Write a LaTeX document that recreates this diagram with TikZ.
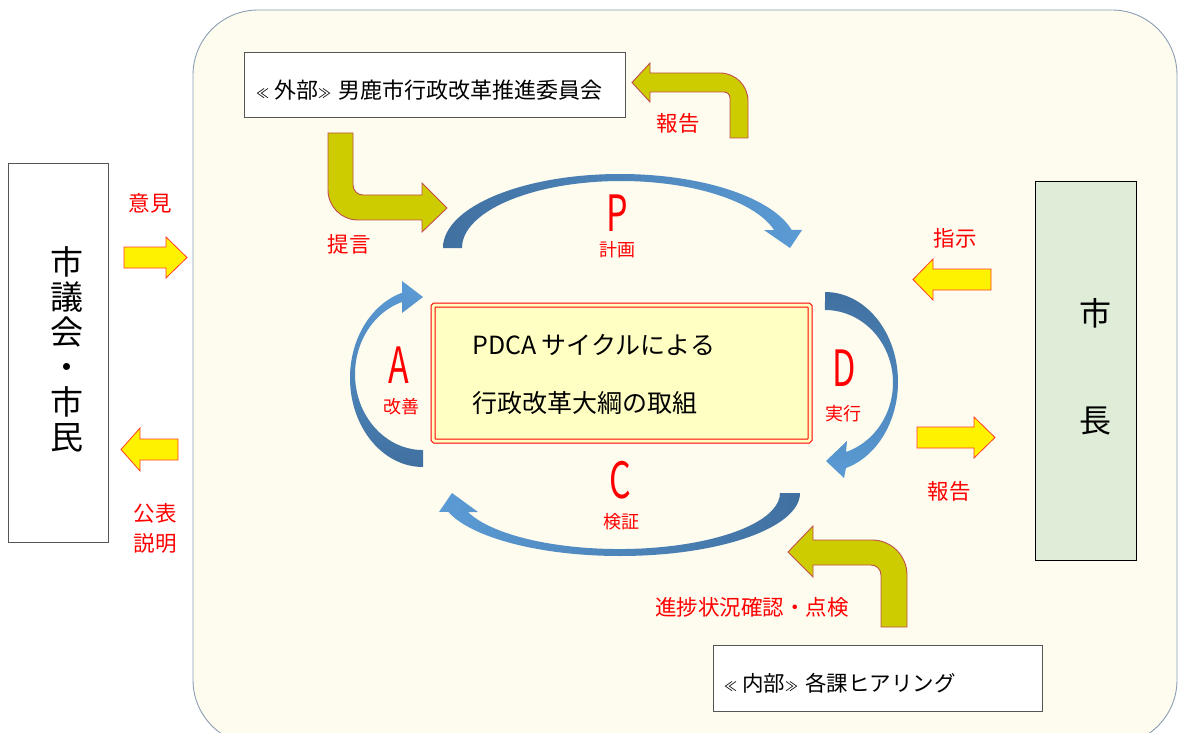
\documentclass[tikz,border=0pt]{standalone}
\usepackage{fontspec}
\setmainfont{Noto Sans CJK JP}
\usepackage{graphicx}
\definecolor{cream}{RGB}{254,251,239}
\definecolor{framecol}{RGB}{140,158,180}
\definecolor{boxyellow}{RGB}{255,255,196}
\definecolor{mayorgreen}{RGB}{223,236,216}
\definecolor{olive}{RGB}{204,204,0}
\definecolor{olivebd}{RGB}{192,80,77}
\definecolor{arcdark}{RGB}{64,112,160}
\definecolor{arclight}{RGB}{91,155,213}
\definecolor{yellowbd}{RGB}{255,60,40}
\definecolor{lblred}{RGB}{255,0,0}
\tikzset{
  whitebox/.style={draw={rgb,255:red,85;green,85;blue,85}, line width=1pt, fill=white},
  yarrow/.style={fill=yellow, draw=yellowbd, line width=0.8pt, line join=miter},
  oarrow/.style={fill=olive, draw=olivebd, line width=0.9pt, line join=miter},
  lbl/.style={text=lblred, font=\fontsize{21.5}{21.5}\selectfont, inner sep=0pt},
  sublbl/.style={text=lblred, font=\fontsize{18}{18}\selectfont, inner sep=0pt},
  bigletter/.style={text=lblred, inner sep=0pt},
  boxtext/.style={font=\fontsize{21.5}{21.5}\selectfont, inner sep=0pt, anchor=west},
  coretext/.style={font=\fontsize{25}{25}\selectfont, inner sep=0pt, anchor=west}
}
\newcommand{\pdcaletter}[1]{\scalebox{0.68}[1]{\fontsize{50}{50}\selectfont #1}}
\newcommand{\lgu}{{\fontsize{13}{13}\selectfont ≪}}
\newcommand{\rgu}{{\fontsize{13}{13}\selectfont ≫}}
\begin{document}
\begin{tikzpicture}[x=1pt,y=-1pt]
\useasboundingbox (0,0) rectangle (1179,733);
\begin{scope}
\clip (0,0) rectangle (1179,733);
% main frame
\draw[rounded corners=65pt, draw=framecol, line width=0.9pt, fill=cream] (193,10) rectangle (1177,745);

% left box
\node[whitebox, minimum width=100pt, minimum height=378pt, inner sep=0pt] (council) at (58,353) {};
\node[font=\fontsize{33}{35}\selectfont, align=center, inner sep=0pt] (counciltext) at (67,349) {市\\議\\会\\・\\市\\民};

% mayor box
\node[draw=black, line width=1pt, fill=mayorgreen, minimum width=101pt, minimum height=378pt, inner sep=0pt] (mayor) at (1085.5,371) {};
\node[font=\fontsize{32}{32}\selectfont, inner sep=0pt] (mayor1) at (1095,313) {市};
\node[font=\fontsize{32}{32}\selectfont, inner sep=0pt] (mayor2) at (1095,421) {長};

% external committee box
\node[whitebox, minimum width=381pt, minimum height=65pt, inner sep=0pt] (ext) at (434.5,85.5) {};
\node[boxtext, font=\fontsize{22}{22}\selectfont] (exttext) at (256,90) {\lgu\hspace{5pt}外部\rgu\hspace{7pt}男鹿市行政改革推進委員会};

% internal hearing box
\node[whitebox, minimum width=329pt, minimum height=66pt, inner sep=0pt] (int) at (877.5,678) {};
\node[boxtext] (inttext) at (724,683) {\lgu\hspace{5pt}内部\rgu\hspace{7pt}各課ヒアリング};

% core box
\node[draw=red, line width=1pt, double=boxyellow, double distance=3pt, fill=boxyellow, rounded corners=1.5pt, minimum width=377pt, minimum height=136pt, inner sep=0pt] (core) at (621.5,373) {};
\node[coretext] (core1) at (472,345) {PDCA サイクルによる};
\node[coretext] (core2) at (472,403) {行政改革大綱の取組};

% blue cycle arrows
% P
\shade[left color=arcdark, right color=arclight]
  (443,248) arc[start angle=180, end angle=345.9, x radius=177, y radius=74]
  -- (802,230) -- (790,248) -- (764,230) -- (774.1,230)
  arc[start angle=344.4, end angle=180, x radius=159, y radius=67] -- cycle;
% D
\shade[top color=arcdark, bottom color=arclight]
  (825,292) arc[start angle=270, end angle=433.3, x radius=73, y radius=89.9]
  -- (844,478) -- (826,461) -- (847,441) -- (846,452)
  arc[start angle=432, end angle=270, x radius=68, y radius=72.8] -- cycle;
% C
\shade[left color=arclight, right color=arcdark]
  (800,493) arc[start angle=0, end angle=162.6, x radius=180, y radius=63]
  -- (439,512) -- (452,493) -- (478,512) -- (467.9,512)
  arc[start angle=160.2, end angle=0, x radius=160.8, y radius=56] -- cycle;
% A
\shade[top color=arclight, bottom color=arcdark]
  (423,467) arc[start angle=90, end angle=253.3, x radius=73, y radius=89]
  -- (402,281) -- (423,297) -- (402,313) -- (402,302)
  arc[start angle=252, end angle=90, x radius=68, y radius=75.9] -- cycle;

% PDCA letters
\node[bigletter] (P) at (617,213) {\pdcaletter{P}};
\node[sublbl] (Plbl) at (617,250) {計画};
\node[bigletter] (D) at (844,368) {\pdcaletter{D}};
\node[sublbl] (Dlbl) at (843,414) {実行};
\node[bigletter] (C) at (620,480) {\pdcaletter{C}};
\node[sublbl] (Clbl) at (621,522) {検証};
\node[bigletter] (A) at (399,365) {\pdcaletter{A}};
\node[sublbl] (Albl) at (401,407) {改善};

% olive U-turn arrows
% 報告 (top)
\draw[oarrow] (748,138) -- (748,101) arc[start angle=0, end angle=-90, radius=28]
  -- (650,73) -- (650,63) -- (632,82.5) -- (650,102) -- (650,92) -- (724,92)
  arc[start angle=-90, end angle=0, radius=6] -- (730,138) -- cycle;
% 提言
\draw[oarrow] (328,133) -- (328,190) arc[start angle=180, end angle=90, radius=30]
  -- (422,220) -- (422,232) -- (447,208) -- (422,183) -- (422,195) -- (363,195)
  arc[start angle=90, end angle=180, radius=10] -- (353,133) -- cycle;
% 進捗
\draw[oarrow] (907,627) -- (907,575) arc[start angle=0, end angle=-90, radius=35]
  -- (813,540) -- (813,526) -- (788,552) -- (813,577) -- (813,565) -- (871,565)
  arc[start angle=-90, end angle=0, radius=10] -- (881,627) -- cycle;

% yellow straight arrows
\draw[yarrow] (124,247) -- (166,247) -- (166,237) -- (187,257.5) -- (166,278) -- (166,268) -- (124,268) -- cycle;
\draw[yarrow] (178,439) -- (140,439) -- (140,428) -- (121,449.5) -- (140,471) -- (140,460) -- (178,460) -- cycle;
\draw[yarrow] (991,269) -- (933,269) -- (933,259) -- (913,279.5) -- (933,300) -- (933,290) -- (991,290) -- cycle;
\draw[yarrow] (917,427) -- (974,427) -- (974,417) -- (995,437.5) -- (974,458) -- (974,448) -- (917,448) -- cycle;

% red labels
\node[lbl] (l1) at (150,203) {意見};
\node[lbl] (l2) at (155,513) {公表};
\node[lbl] (l3) at (155,543) {説明};
\node[lbl] (l4) at (678,123) {報告};
\node[lbl] (l5) at (349,244) {提言};
\node[lbl] (l6) at (955,238) {指示};
\node[lbl] (l7) at (949,491) {報告};
\node[lbl] (l8) at (752,607) {進捗状況確認・点検};
\end{scope}
\end{tikzpicture}
\end{document}
